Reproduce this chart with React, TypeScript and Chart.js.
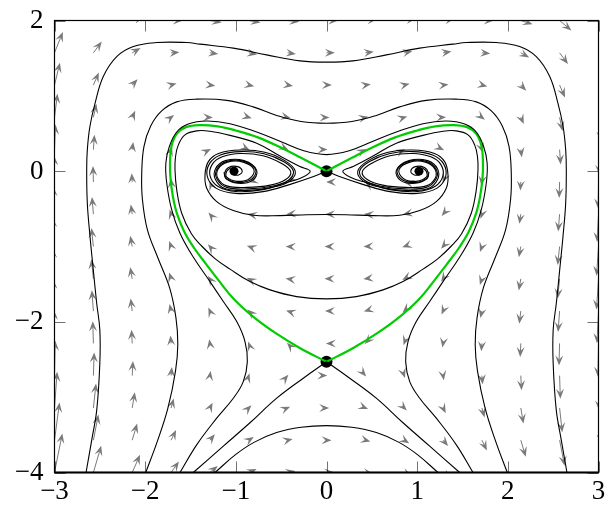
import { useEffect, useRef } from 'react';
import { Chart, registerables } from 'chart.js';

Chart.register(...registerables);

// ---- axes ----
const xTicks = [-3, -2, -1, 0, 1, 2, 3];
const xTickLabels = ['−3', '−2', '−1', '0', '1', '2', '3'];
const yTicks = [-4, -2, 0, 2];
const yTickLabels = ['−4', '−2', '0', '2'];

// ---- direction field sample grid ----
const gridX = [-3, -2.571, -2.143, -1.714, -1.286, -0.857, -0.429, 0, 0.429, 0.857, 1.286, 1.714, 2.143, 2.571, 3];
const gridY = [2, 1.571, 1.143, 0.714, 0.286, -0.143, -0.571, -1, -1.429, -1.857, -2.286, -2.714, -3.143, -3.571, -4];

// horizontal component, one value per row of gridY
const fieldU = [9.0, 6.4, 4.16, 2.3, 0.8, -0.34, -1.1, -1.5, -1.53, -1.19, -0.49, 0.58, 2.02, 3.83, 6.0];

// vertical component, rows follow gridY, columns follow gridX
const fieldV = [
  [18, 9.29, 3.41, -0.1, -1.73, -1.94, -1.21, 0, 1.21, 1.94, 1.73, 0.1, -3.41, -9.29, -18],
  [19.29, 10.39, 4.33, 0.63, -1.18, -1.57, -1.02, 0, 1.02, 1.57, 1.18, -0.63, -4.33, -10.39, -19.29],
  [20.57, 11.49, 5.25, 1.36, -0.63, -1.21, -0.84, 0, 0.84, 1.21, 0.63, -1.36, -5.25, -11.49, -20.57],
  [21.86, 12.59, 6.17, 2.1, -0.08, -0.84, -0.66, 0, 0.66, 0.84, 0.08, -2.1, -6.17, -12.59, -21.86],
  [23.14, 13.69, 7.08, 2.83, 0.47, -0.47, -0.47, 0, 0.47, 0.47, -0.47, -2.83, -7.08, -13.69, -23.14],
  [24.43, 14.8, 8.0, 3.57, 1.02, -0.1, -0.29, 0, 0.29, 0.1, -1.02, -3.57, -8.0, -14.8, -24.43],
  [25.71, 15.9, 8.92, 4.3, 1.57, 0.26, -0.11, 0, 0.11, -0.26, -1.57, -4.3, -8.92, -15.9, -25.71],
  [27, 17.0, 9.84, 5.04, 2.13, 0.63, 0.08, 0, -0.08, -0.63, -2.13, -5.04, -9.84, -17.0, -27],
  [28.29, 18.1, 10.76, 5.77, 2.68, 1.0, 0.26, 0, -0.26, -1.0, -2.68, -5.77, -10.76, -18.1, -28.29],
  [29.57, 19.2, 11.68, 6.51, 3.23, 1.36, 0.45, 0, -0.45, -1.36, -3.23, -6.51, -11.68, -19.2, -29.57],
  [30.86, 20.31, 12.6, 7.24, 3.78, 1.73, 0.63, 0, -0.63, -1.73, -3.78, -7.24, -12.6, -20.31, -30.86],
  [32.14, 21.41, 13.51, 7.98, 4.33, 2.1, 0.81, 0, -0.81, -2.1, -4.33, -7.98, -13.51, -21.41, -32.14],
  [33.43, 22.51, 14.43, 8.71, 4.88, 2.47, 1.0, 0, -1.0, -2.47, -4.88, -8.71, -14.43, -22.51, -33.43],
  [34.71, 23.61, 15.35, 9.44, 5.43, 2.83, 1.18, 0, -1.18, -2.83, -5.43, -9.44, -15.35, -23.61, -34.71],
  [36, 24.71, 16.27, 10.18, 5.98, 3.2, 1.37, 0, -1.37, -3.2, -5.98, -10.18, -16.27, -24.71, -36],
];

// ---- trajectories, [x, y] ----
const outerOrbit = [
  [-2.652, -4.0], [-2.589, -3.566], [-2.534, -3.168], [-2.5, -2.55], [-2.5, -2.11], [-2.535, -1.75], [-2.572, -1.31],
  [-2.608, -0.87], [-2.638, -0.425], [-2.645, 0.02], [-2.638, 0.283], [-2.61, 0.59], [-2.553, 0.9], [-2.462, 1.256],
  [-2.314, 1.52], [-2.13, 1.654], [-1.873, 1.707], [-1.542, 1.707], [-1.395, 1.686], [-1.028, 1.633], [-0.66, 1.544],
  [-0.292, 1.464], [0, 1.447], [0.292, 1.464], [0.66, 1.544], [1.028, 1.633], [1.395, 1.686], [1.542, 1.707],
  [1.873, 1.707], [2.13, 1.654], [2.314, 1.52], [2.462, 1.256], [2.553, 0.9], [2.61, 0.59], [2.638, 0.283],
  [2.645, 0.02], [2.638, -0.425], [2.608, -0.87], [2.572, -1.31], [2.535, -1.75], [2.5, -2.11], [2.5, -2.55],
  [2.534, -3.168], [2.589, -3.566], [2.652, -4.0],
];

const secondOrbit = [
  [-1.994, -4.0], [-1.87, -3.6], [-1.75, -3.15], [-1.665, -2.65], [-1.64, -2.3], [-1.66, -1.95], [-1.73, -1.55],
  [-1.86, -1.15], [-1.975, -0.78], [-2.03, -0.38], [-2.038, -0.03], [-2.013, 0.33], [-1.939, 0.6], [-1.818, 0.8],
  [-1.652, 0.92], [-1.432, 0.956], [-1.1, 0.94], [-0.8, 0.85], [-0.55, 0.74], [-0.28, 0.66], [0, 0.637],
  [0.28, 0.66], [0.55, 0.74], [0.8, 0.85], [1.1, 0.94], [1.432, 0.956], [1.652, 0.92], [1.818, 0.8], [1.939, 0.6],
  [2.013, 0.33], [2.038, -0.03], [2.03, -0.38], [1.975, -0.78], [1.86, -1.15], [1.73, -1.55], [1.66, -1.95],
  [1.64, -2.3], [1.665, -2.65], [1.75, -3.15], [1.87, -3.6], [1.994, -4.0],
];

const hourglassOrbit = [
  [-1.616, -4.0], [-1.432, -3.633], [-1.211, -3.279], [-1.028, -3.014], [-0.918, -2.793], [-0.873, -2.528],
  [-0.899, -2.262], [-0.99, -1.997], [-1.138, -1.731], [-1.285, -1.466], [-1.47, -1.14], [-1.616, -0.823],
  [-1.707, -0.514], [-1.762, -0.16], [-1.772, 0.106], [-1.733, 0.327], [-1.652, 0.52], [-1.524, 0.625],
  [-1.321, 0.665], [-1.064, 0.63], [-0.77, 0.52], [-0.5, 0.39], [-0.25, 0.27], [0, 0.22], [0.25, 0.27],
  [0.5, 0.39], [0.77, 0.52], [1.064, 0.63], [1.321, 0.665], [1.524, 0.625], [1.652, 0.52], [1.733, 0.327],
  [1.772, 0.106], [1.762, -0.16], [1.707, -0.514], [1.616, -0.823], [1.47, -1.14], [1.285, -1.466],
  [1.138, -1.731], [0.99, -1.997], [0.899, -2.262], [0.873, -2.528], [0.918, -2.793], [1.028, -3.014],
  [1.211, -3.279], [1.432, -3.633], [1.616, -4.0],
];

const archOrbit = [
  [-1.23, -4.0], [-1.0, -3.76], [-0.8, -3.6], [-0.55, -3.47], [-0.28, -3.4], [0, -3.378],
  [0.28, -3.4], [0.55, -3.47], [0.8, -3.6], [1.0, -3.76], [1.23, -4.0],
];

// branches through the lower saddle that leave the frame at the bottom
const lowerBranchLeft = [[0, -2.53], [-0.256, -2.748], [-0.549, -3.013], [-0.844, -3.34], [-1.138, -3.65], [-1.469, -4.0]];
const lowerBranchRight = [[0, -2.53], [0.256, -2.748], [0.549, -3.013], [0.844, -3.34], [1.138, -3.65], [1.469, -4.0]];

// heteroclinic connection between the two saddles
const heartLeft = [
  [0, 0], [-0.25, 0.158], [-0.5, 0.31], [-0.75, 0.445], [-1.0, 0.54], [-1.2, 0.595], [-1.4, 0.612], [-1.55, 0.585],
  [-1.65, 0.5], [-1.71, 0.33], [-1.726, 0.1], [-1.72, -0.1], [-1.695, -0.33], [-1.65, -0.56], [-1.57, -0.8],
  [-1.46, -1.02], [-1.33, -1.23], [-1.19, -1.45], [-1.02, -1.7], [-0.81, -1.93], [-0.56, -2.15], [-0.29, -2.35],
  [0, -2.53],
];
const heartRight = [
  [0, 0], [0.25, 0.158], [0.5, 0.31], [0.75, 0.445], [1.0, 0.54], [1.2, 0.595], [1.4, 0.612], [1.55, 0.585],
  [1.65, 0.5], [1.71, 0.33], [1.726, 0.1], [1.72, -0.1], [1.695, -0.33], [1.65, -0.56], [1.57, -0.8],
  [1.46, -1.02], [1.33, -1.23], [1.19, -1.45], [1.02, -1.7], [0.81, -1.93], [0.56, -2.15], [0.29, -2.35],
  [0, -2.53],
];

// orbit running inside the heart, from the right focus to the left focus
const innerRight = [
  [1.05, 0.05], [1.1, 0.0], [1.1, -0.08], [0.99, -0.135], [0.85, -0.1], [0.8, 0.02], [0.92, 0.12], [1.09, 0.12],
  [1.195, 0.03], [1.2, -0.09], [1.1, -0.195], [0.87, -0.215], [0.62, -0.185], [0.45, -0.11], [0.395, -0.005],
  [0.5, 0.105], [0.7, 0.205], [0.95, 0.235], [1.15, 0.19], [1.26, 0.09], [1.285, -0.06], [1.2, -0.2],
  [1.0, -0.27], [0.7, -0.245], [0.45, -0.155], [0.27, -0.085], [0.18, 0.0], [0.3, 0.065], [0.513, 0.2],
  [0.77, 0.372], [1.064, 0.475], [1.285, 0.53], [1.432, 0.535], [1.561, 0.482], [1.634, 0.349], [1.665, 0.194],
  [1.671, 0.017], [1.652, -0.248], [1.597, -0.558], [1.49, -0.83], [1.38, -0.99], [1.23, -1.16], [1.064, -1.3],
  [0.844, -1.466], [0.623, -1.576], [0.329, -1.665], [0, -1.695],
];
const innerLeft = [
  [0, -1.695], [-0.329, -1.665], [-0.623, -1.576], [-0.844, -1.466], [-1.064, -1.3], [-1.23, -1.16],
  [-1.38, -0.99], [-1.49, -0.83], [-1.597, -0.558], [-1.652, -0.248], [-1.671, 0.017], [-1.665, 0.194],
  [-1.634, 0.349], [-1.561, 0.482], [-1.432, 0.535], [-1.285, 0.53], [-1.064, 0.475], [-0.77, 0.372],
  [-0.513, 0.2], [-0.3, 0.065], [-0.18, 0.0], [-0.27, -0.085], [-0.45, -0.155], [-0.7, -0.245], [-1.0, -0.27],
  [-1.2, -0.2], [-1.285, -0.06], [-1.26, 0.09], [-1.15, 0.19], [-0.95, 0.235], [-0.7, 0.205], [-0.5, 0.105],
  [-0.395, -0.005], [-0.45, -0.11], [-0.62, -0.185], [-0.87, -0.215], [-1.1, -0.195], [-1.2, -0.09],
  [-1.195, 0.03], [-1.09, 0.12], [-0.92, 0.12], [-0.8, 0.02], [-0.85, -0.1], [-0.99, -0.135], [-1.1, -0.08],
  [-1.1, 0.0], [-1.05, 0.05],
];

// orbit passing below the two foci
const bowlRight = [
  [1.13, -0.01], [1.11, -0.1], [0.98, -0.16], [0.82, -0.125], [0.77, 0.01], [0.91, 0.14], [1.115, 0.14],
  [1.225, 0.03], [1.225, -0.11], [1.12, -0.23], [0.87, -0.255], [0.6, -0.215], [0.41, -0.135], [0.345, 0.0],
  [0.46, 0.14], [0.68, 0.252], [0.95, 0.28], [1.19, 0.235], [1.303, 0.127], [1.34, -0.049], [1.321, -0.226],
  [1.211, -0.404], [1.028, -0.523], [0.807, -0.585], [0.513, -0.59], [0.218, -0.578], [0, -0.575],
];
const bowlLeft = [
  [0, -0.575], [-0.218, -0.578], [-0.513, -0.59], [-0.807, -0.585], [-1.028, -0.523], [-1.211, -0.404],
  [-1.321, -0.226], [-1.34, -0.049], [-1.303, 0.127], [-1.19, 0.235], [-0.95, 0.28], [-0.68, 0.252],
  [-0.46, 0.14], [-0.345, 0.0], [-0.41, -0.135], [-0.6, -0.215], [-0.87, -0.255], [-1.12, -0.23],
  [-1.225, -0.11], [-1.225, 0.03], [-1.115, 0.14], [-0.91, 0.14], [-0.77, 0.01], [-0.82, -0.125],
  [-0.98, -0.16], [-1.11, -0.1], [-1.13, -0.01],
];

// branches of the upper saddle winding into the two foci
const focusBranchLeft = [
  [0, 0], [-0.15, -0.075], [-0.4, -0.175], [-0.7, -0.272], [-1.0, -0.295], [-1.22, -0.225], [-1.315, -0.07],
  [-1.29, 0.1], [-1.17, 0.215], [-0.95, 0.26], [-0.69, 0.232], [-0.47, 0.125], [-0.365, 0.0], [-0.42, -0.12],
  [-0.6, -0.2], [-0.86, -0.235], [-1.1, -0.215], [-1.21, -0.1], [-1.21, 0.025], [-1.1, 0.13], [-0.91, 0.13],
  [-0.78, 0.015], [-0.83, -0.11], [-0.98, -0.15], [-1.1, -0.1], [-1.12, -0.02], [-1.08, 0.05], [-0.98, 0.06],
  [-0.93, 0.0], [-0.97, -0.05], [-1.03, -0.04], [-1.04, 0.01], [-1.01, 0.02],
];
const focusBranchRight = [
  [0, 0], [0.15, -0.075], [0.4, -0.175], [0.7, -0.272], [1.0, -0.295], [1.22, -0.225], [1.315, -0.07],
  [1.29, 0.1], [1.17, 0.215], [0.95, 0.26], [0.69, 0.232], [0.47, 0.125], [0.365, 0.0], [0.42, -0.12],
  [0.6, -0.2], [0.86, -0.235], [1.1, -0.215], [1.21, -0.1], [1.21, 0.025], [1.1, 0.13], [0.91, 0.13],
  [0.78, 0.015], [0.83, -0.11], [0.98, -0.15], [1.1, -0.1], [1.12, -0.02], [1.08, 0.05], [0.98, 0.06],
  [0.93, 0.0], [0.97, -0.05], [1.03, -0.04], [1.04, 0.01], [1.01, 0.02],
];

const saddlePoints = [[0, 0], [0, -2.53]];
const focusPoints = [[-1.02, 0], [1.02, 0]];

// ---- drawing constants ----
const ARROW_SCALE = 0.0144;
const HEAD_LEN = 10;
const HEAD_WIDTH = 8;
const TICK_LEN = 11;
const LABEL_FONT = "27px 'Liberation Serif', 'Times New Roman', serif";

const toXY = (pts: number[][]) => pts.map(([x, y]) => ({ x, y }));

const quiverPlugin = {
  id: 'quiver',
  beforeDatasetsDraw(chart: any) {
    const { ctx, chartArea, scales } = chart;
    const xs = scales.x;
    const ys = scales.y;
    ctx.save();
    ctx.beginPath();
    ctx.rect(chartArea.left, chartArea.top, chartArea.right - chartArea.left, chartArea.bottom - chartArea.top);
    ctx.clip();
    ctx.strokeStyle = '#7a7a7a';
    ctx.fillStyle = '#7a7a7a';
    ctx.lineWidth = 1;
    gridY.forEach((gy, i) => {
      gridX.forEach((gx, j) => {
        const u = fieldU[i];
        const v = fieldV[i][j];
        if (u === 0 && v === 0) return;
        const x0 = xs.getPixelForValue(gx);
        const y0 = ys.getPixelForValue(gy);
        const x1 = xs.getPixelForValue(gx + u * ARROW_SCALE);
        const y1 = ys.getPixelForValue(gy + v * ARROW_SCALE);
        const ang = Math.atan2(y1 - y0, x1 - x0);
        const len = Math.hypot(x1 - x0, y1 - y0);
        if (len > HEAD_LEN * 0.6) {
          ctx.beginPath();
          ctx.moveTo(x0, y0);
          ctx.lineTo(x1 - Math.cos(ang) * HEAD_LEN * 0.6, y1 - Math.sin(ang) * HEAD_LEN * 0.6);
          ctx.stroke();
        }
        ctx.save();
        ctx.translate(x1, y1);
        ctx.rotate(ang);
        ctx.beginPath();
        ctx.moveTo(0, 0);
        ctx.lineTo(-HEAD_LEN, HEAD_WIDTH / 2);
        ctx.lineTo(-HEAD_LEN * 0.6, 0);
        ctx.lineTo(-HEAD_LEN, -HEAD_WIDTH / 2);
        ctx.closePath();
        ctx.fill();
        ctx.restore();
      });
    });
    ctx.restore();
  },
};

const framePlugin = {
  id: 'frame',
  afterDatasetsDraw(chart: any) {
    const { ctx, chartArea, scales } = chart;
    const { left, right, top, bottom } = chartArea;
    ctx.save();
    // inward tick marks on all four sides
    ctx.strokeStyle = 'rgba(0,0,0,0.55)';
    ctx.lineWidth = 1;
    ctx.beginPath();
    xTicks.forEach((v) => {
      const px = Math.round(scales.x.getPixelForValue(v)) + 0.5;
      ctx.moveTo(px, bottom);
      ctx.lineTo(px, bottom - TICK_LEN);
      ctx.moveTo(px, top);
      ctx.lineTo(px, top + TICK_LEN);
    });
    yTicks.forEach((v) => {
      const py = Math.round(scales.y.getPixelForValue(v)) + 0.5;
      ctx.moveTo(left, py);
      ctx.lineTo(left + TICK_LEN, py);
      ctx.moveTo(right, py);
      ctx.lineTo(right - TICK_LEN, py);
    });
    ctx.stroke();
    // frame
    ctx.strokeStyle = '#000';
    ctx.lineWidth = 1.2;
    ctx.strokeRect(left, top, right - left, bottom - top);
    ctx.lineWidth = 2;
    ctx.beginPath();
    ctx.moveTo(left, bottom);
    ctx.lineTo(right, bottom);
    ctx.stroke();
    // tick labels
    ctx.fillStyle = '#000';
    ctx.font = LABEL_FONT;
    ctx.textBaseline = 'middle';
    ctx.textAlign = 'center';
    xTicks.forEach((v, i) => {
      ctx.fillText(xTickLabels[i], scales.x.getPixelForValue(v), bottom + 19.5);
    });
    ctx.textAlign = 'right';
    yTicks.forEach((v, i) => {
      ctx.fillText(yTickLabels[i], left - 11, scales.y.getPixelForValue(v) + 0.5);
    });
    ctx.restore();
  },
};

const orbit = (pts: number[][], color = '#000', width = 1.1) => ({
  data: toXY(pts),
  showLine: true,
  borderColor: color,
  borderWidth: width,
  pointRadius: 0,
  tension: 0.4,
  fill: false,
});

export default function App() {
  const canvasRef = useRef<HTMLCanvasElement | null>(null);

  useEffect(() => {
    if (!canvasRef.current) return;
    const blackOrbits = [
      outerOrbit,
      secondOrbit,
      hourglassOrbit,
      archOrbit,
      lowerBranchLeft,
      lowerBranchRight,
      [...innerRight, ...innerLeft.slice(1)],
      [...bowlRight, ...bowlLeft.slice(1)],
      focusBranchLeft,
      focusBranchRight,
    ];
    const chart = new Chart(canvasRef.current, {
      type: 'scatter',
      data: {
        datasets: [
          ...blackOrbits.map((pts) => orbit(pts)),
          orbit(heartLeft, '#00cc00', 2.2),
          orbit(heartRight, '#00cc00', 2.2),
          {
            data: toXY(focusPoints),
            showLine: false,
            pointRadius: 4.5,
            backgroundColor: '#000',
            borderWidth: 0,
          },
          {
            data: toXY(saddlePoints),
            showLine: false,
            pointRadius: 6,
            backgroundColor: '#000',
            borderWidth: 0,
          },
        ] as any,
      },
      options: {
        animation: false,
        responsive: false,
        events: [],
        layout: { padding: { left: 54.5, right: 9.5, top: 20.5, bottom: 32.5 } },
        plugins: { legend: { display: false }, tooltip: { enabled: false } },
        scales: {
          x: { type: 'linear', min: -3, max: 3, display: false },
          y: { type: 'linear', min: -4, max: 2, display: false },
        },
      } as any,
      plugins: [quiverPlugin, framePlugin],
    });
    return () => chart.destroy();
  }, []);

  return (
    <div style={{ position: 'fixed', left: 0, top: 0, width: 608, height: 505, background: '#fff' }}>
      <canvas ref={canvasRef} width={608} height={505} style={{ display: 'block' }} />
    </div>
  );
}
